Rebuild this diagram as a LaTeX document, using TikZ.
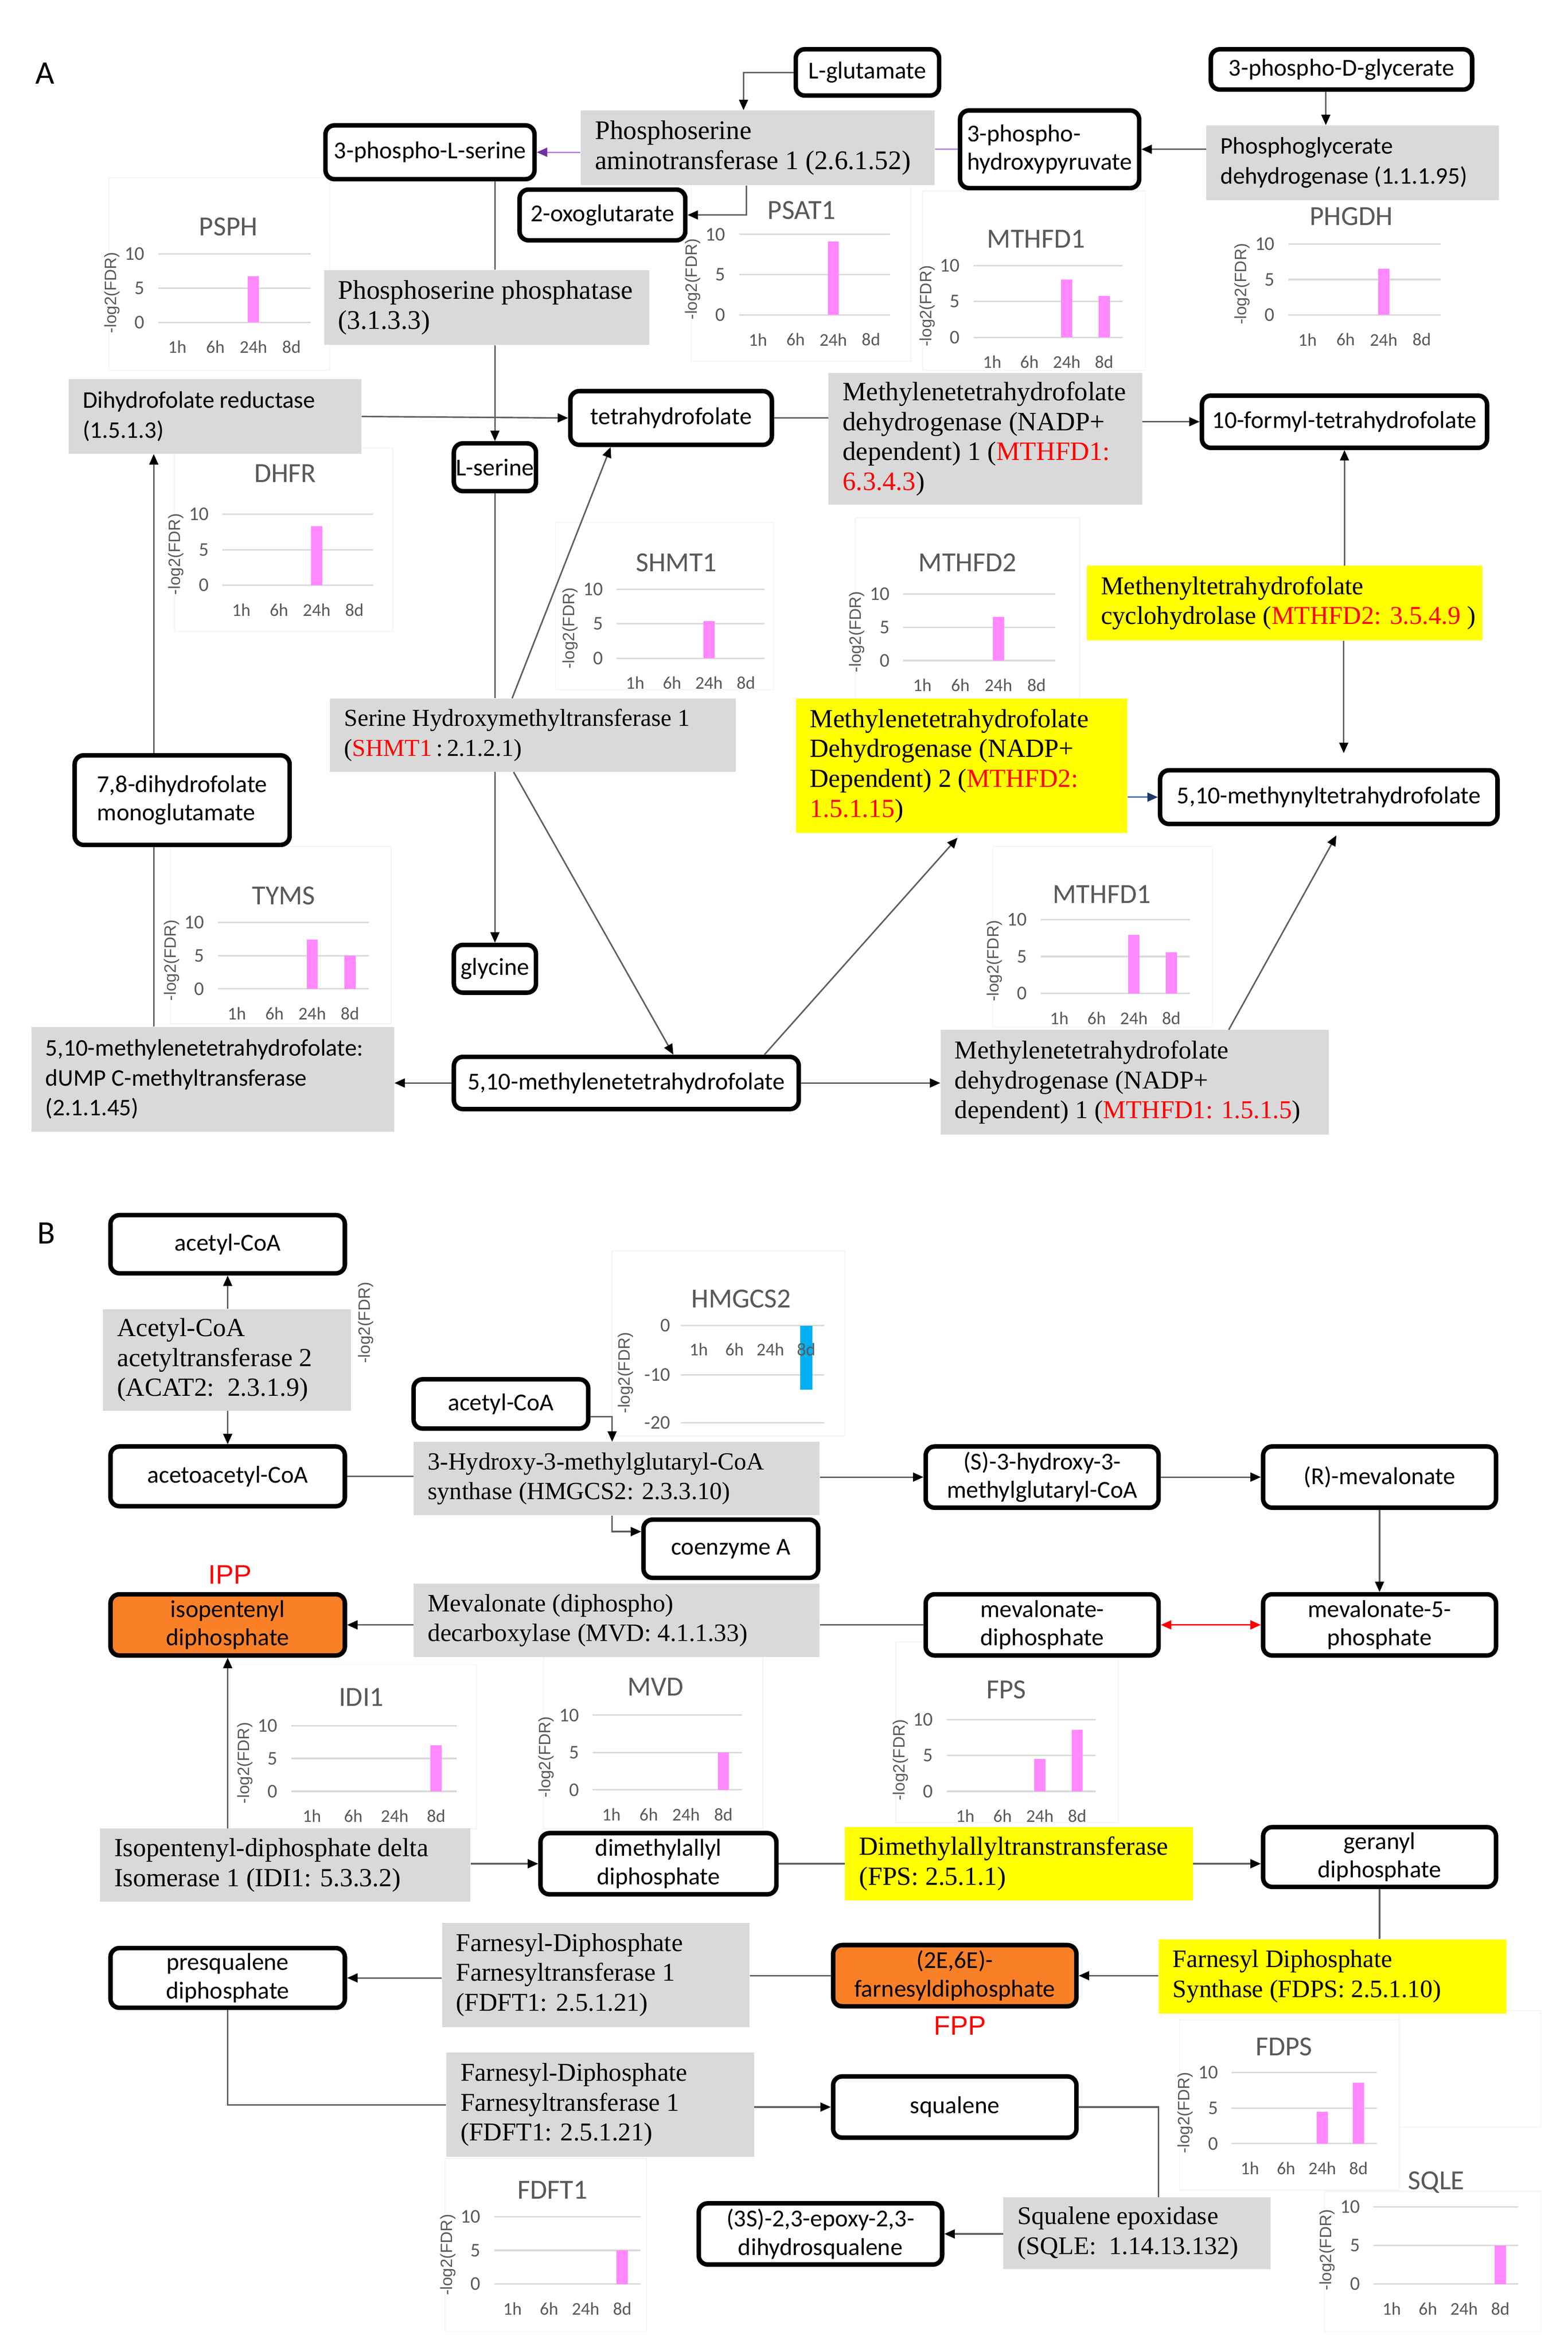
\documentclass[tikz,border=0pt]{standalone}
\usepackage{fontspec}
\setmainfont{Liberation Serif}
\setsansfont{Carlito}
\newfontfamily\arialf{Liberation Sans}
\usetikzlibrary{arrows.meta,calc}
\definecolor{gboxc}{RGB}{217,217,217}
\definecolor{yboxc}{RGB}{255,255,0}
\definecolor{oboxc}{RGB}{250,128,40}
\definecolor{pinkbar}{RGB}{255,136,255}
\definecolor{bluebar}{RGB}{0,176,240}
\definecolor{axgray}{RGB}{89,89,89}
\definecolor{gridc}{RGB}{217,217,217}
\definecolor{linec}{RGB}{95,95,95}
\definecolor{purpl}{RGB}{190,130,225}
\definecolor{purpd}{RGB}{112,48,160}
\definecolor{navyl}{RGB}{68,114,196}
\definecolor{navyd}{RGB}{31,56,100}
\definecolor{framec}{RGB}{245,245,245}
\newcommand\rd[1]{\textcolor{red}{#1}}
% metabolite box: [opts]{name}{x1}{y1}{x2}{y2}{text}
\newcommand\metab[7][]{\node[met,#1,minimum width={(#5-#3)*1pt},minimum height={(#6-#4)*1pt}] (#2) at ({(#3+#5)/2},{(#4+#6)/2}) {#7};}
% enzyme box: [opts]{name}{x1}{y1}{x2}{y2}{text}
\newcommand\enz[7][]{\node[ebox,#1,minimum width={(#5-#3)*1pt},minimum height={(#6-#4)*1pt}] (#2) at ({(#3+#5)/2},{(#4+#6)/2}) {};
 \node[etext,#1] (#2-t) at ([xshift=9.5pt]#2.west) {#7};}
% chart: {name}{gl}{gr}{y0}{y10}{title}{tx}{ty}{bars}
\newcommand\chart[9]{%
 \pgfmathsetmacro\cYf{(#4+#5)/2}%
 \pgfmathsetmacro\cStep{(#3-#2)/4}%
 \draw[gridl] (#2,#4) -- (#3,#4);
 \draw[gridl] (#2,\cYf) -- (#3,\cYf);
 \draw[gridl] (#2,#5) -- (#3,#5);
 \node[tick,anchor=east] (#1-t0) at (#2-9,#4) {0};
 \node[tick,anchor=east] (#1-t5) at (#2-9,\cYf) {5};
 \node[tick,anchor=east] (#1-t10) at (#2-9,#5) {10};
 \foreach \ci/\cv in {#9}{\fill[pinkbar] ({#2+(\ci-0.5)*\cStep-3.75},#4) rectangle ({#2+(\ci-0.5)*\cStep+3.75},{#4-\cv*(#4-#5)/10});}
 \foreach \ci/\cl in {1/1h,2/6h,3/24h,4/8d}{\node[xlab] (#1-x\ci) at ({#2+(\ci-0.5)*\cStep},#4+16.5) {\cl};}
 \node[ctitle] (#1-title) at (#7,#8) {#6};
 \node[ylab] (#1-y) at (#2-31,\cYf+3) {-log2(FDR)};
}
\begin{document}
\begin{tikzpicture}[x=1pt,y=-1pt,
 met/.style={draw=black,line width=3pt,rounded corners=6pt,fill=white,font=\sffamily\fontsize{16.3}{19}\selectfont,align=center,inner sep=0pt},
 ebox/.style={inner sep=0pt,fill=gboxc},
 etext/.style={inner sep=0pt,anchor=west,align=left,font=\fontsize{17.5}{20}\selectfont},
 esans/.style={font=\sffamily\fontsize{16}{20}\selectfont},
 fs/.style={font={\fontsize{#1}{20}\selectfont}},
 yel/.style={fill=yboxc},
 orb/.style={fill=oboxc},
 gridl/.style={draw=gridc,line width=1pt},
 tick/.style={font=\sffamily\fontsize{13}{13}\selectfont,text=axgray,inner sep=0pt},
 xlab/.style={font=\sffamily\fontsize{12}{12}\selectfont,text=axgray,inner sep=0pt},
 ctitle/.style={font=\sffamily\fontsize{18.5}{18.5}\selectfont,text=axgray,inner sep=0pt},
 ylab/.style={font=\arialf\fontsize{11}{11}\selectfont,text=axgray,inner sep=0pt,rotate=90},
 cframe/.style={draw=framec,line width=0.8pt},
 conn/.style={draw=linec,line width=1pt},
 arr/.style={conn,-{Triangle[length=7pt,width=6pt,color=black]}},
 parr/.style={draw=purpl,line width=1pt,-{Triangle[length=7pt,width=6pt,color=purpd]}},
 pline/.style={draw=purpl,line width=1pt},
 narr/.style={draw=navyl,line width=1pt,-{Triangle[length=7pt,width=6pt,color=navyd]}},
 darr/.style={draw=red,line width=1pt,{Triangle[length=7pt,width=6pt]}-{Triangle[length=7pt,width=6pt]}},
 plabel/.style={font=\sffamily\fontsize{22}{22}\selectfont,inner sep=0pt},
 redlab/.style={font=\arialf\fontsize{18}{18}\selectfont,text=red,inner sep=0pt}
]
\useasboundingbox (0,0) rectangle (1050,1573.6);
\fill[white] (0,0) rectangle (1050,1573.6);

% faint chart frames
\draw[cframe] (73,119) rectangle (221,248);
\draw[cframe] (463,120) rectangle (610,242);
\draw[cframe] (618,128) rectangle (767,248);
\draw[cframe] (117,300) rectangle (263,423);
\draw[cframe] (372,350) rectangle (518,462);
\draw[cframe] (573,347) rectangle (723,468);
\draw[cframe] (114,567) rectangle (262,686);
\draw[cframe] (665,567) rectangle (812,688);
\draw[cframe] (410,838) rectangle (566,962);
\draw[cframe] (154,1115) rectangle (319,1225);
\draw[cframe] (364,1110) rectangle (511,1225);
\draw[cframe] (600,1100) rectangle (749,1221);
\draw[cframe] (790,1353) rectangle (937,1467);
\draw[cframe] (937,1347) rectangle (1032,1425);
\draw[cframe] (887,1468) rectangle (1032,1562);
\draw[cframe] (298,1446) rectangle (433,1562);

% panel labels
\node[plabel] (labA) at (30,49) {A};
\node[plabel] (labB) at (31,826) {B};

% charts panel A
\chart{psph}{106}{208}{216}{170}{PSPH}{153}{152}{3/6.7}
\chart{psatc}{495}{596}{211}{157}{PSAT1}{537}{141}{3/9.1}
\chart{mtdA}{652}{752}{226}{178}{MTHFD1}{694}{160}{3/8.1,4/5.8}
\chart{phg}{863}{965}{211}{163.5}{PHGDH}{905}{145}{3/6.5}
\chart{dhfrc}{149}{250}{392}{344.5}{DHFR}{191}{317}{3/8.3}
\chart{shmc}{413}{512}{441}{394.7}{SHMT1}{453}{377}{3/5.4}
\chart{mtdB}{605}{707}{442.5}{398}{MTHFD2}{648}{377}{3/6.6}
\chart{tyms}{146}{247}{662.4}{618}{TYMS}{190}{600}{3/7.4,4/5}
\chart{mtdC}{697}{797}{665.5}{616}{MTHFD1}{738}{599}{3/7.9,4/5.6}
% charts panel B
\chart{idic}{195}{306}{1200}{1156}{IDI1}{242}{1137}{4/7}
\chart{mvdc}{397}{497}{1199}{1149}{MVD}{439}{1130}{4/5}
\chart{fpsc}{634}{734}{1200}{1152}{FPS}{674}{1132}{3/4.5,4/8.6}
\chart{fdpsc}{825}{922}{1436}{1388.4}{FDPS}{860}{1371}{3/4.5,4/8.6}
\chart{sqlec}{920}{1017}{1530}{1478.4}{SQLE}{962}{1462}{4/5}
\chart{fdftc}{331}{429}{1530}{1485}{FDFT1}{370}{1467}{4/5}
% HMGCS2 chart (negative values)
\draw[gridl] (456,888) -- (552,888);
\draw[gridl] (456,921) -- (552,921);
\draw[gridl] (456,953) -- (552,953);
\node[tick,anchor=east] (hm-t0) at (449,888) {0};
\node[tick,anchor=east] (hm-t1) at (449,921) {-10};
\node[tick,anchor=east] (hm-t2) at (449,953) {-20};
\fill[bluebar] (536,888) rectangle (544,931);
\foreach \ci/\cx/\cl in {1/468/1h,2/492/6h,3/516/24h,4/540/8d}{\node[xlab] (hm-x\ci) at (\cx,904) {\cl};}
\node[ctitle] (hm-title) at (496.5,870) {HMGCS2};
\node[ylab] (hm-y) at (419,919.6) {-log2(FDR)};
\node[ylab] (acat-y) at (245,886) {-log2(FDR)};

% metabolites panel A
\metab{glu}{533}{33}{629}{64}{L-glutamate}
\metab{pser}{218}{84}{358}{120}{3-phospho-L-serine}
\metab{oxo}{348}{127}{459}{161}{2-oxoglutarate}
\metab{thf}{382}{262}{517}{298}{tetrahydrofolate}
\metab{lser}{304}{297}{359}{329}{L-serine}
\metab{gly}{304}{633}{359}{665}{glycine}
\metab[align=left]{dhf}{50}{506}{194}{566}{7,8-dihydrofolate\\monoglutamate}
\metab{mthf}{304}{708}{535}{743}{5,10-methylenetetrahydrofolate}
\metab{myn}{777}{516}{1003}{552}{5,10-methynyltetrahydrofolate}
\metab{formyl}{805}{265}{996}{300}{10-formyl-tetrahydrofolate}
\metab[align=left]{php}{643}{74}{763}{126}{3-phospho-\\hydroxypyruvate}
\metab{pdg}{811}{33}{986}{60}{3-phospho-D-glycerate}

% enzymes panel A
\enz[fs=18]{psat}{389}{74}{626}{124}{Phosphoserine\\aminotransferase 1 (2.6.1.52)}
\enz[fs=18]{pspp}{217}{181}{435}{231}{Phosphoserine phosphatase\\(3.1.3.3)}
\enz[esans]{dhfr}{46}{254}{242}{304}{Dihydrofolate reductase\\(1.5.1.3)}
\enz[fs=17.8]{mtdt}{555}{250}{765}{338}{Methylenetetrahydrofolate\\dehydrogenase (NADP+\\dependent) 1 (\rd{MTHFD1:}\\\rd{6.3.4.3})}
\enz[esans]{pgdh}{808}{84}{1004}{134}{Phosphoglycerate\\dehydrogenase (1.1.1.95)}
\enz[fs=16.3]{shmt}{221}{468}{493}{517}{Serine Hydroxymethyltransferase 1\\(\rd{SHMT1}\,:\,2.1.2.1)}
\enz[yel,fs=17.2]{cyc}{728}{379}{993}{429}{Methenyltetrahydrofolate\\cyclohydrolase (\rd{MTHFD2: 3.5.4.9} )}
\enz[yel,fs=17.5]{mtd2}{533}{468}{755}{558}{Methylenetetrahydrofolate\\Dehydrogenase (NADP+\\Dependent) 2 (\rd{MTHFD2:}\\\rd{1.5.1.15})}
\enz[esans]{dump}{21}{688}{264}{758}{5,10-methylenetetrahydrofolate:\\dUMP C-methyltransferase\\(2.1.1.45)}
\enz[fs=17.2]{mtdb}{630}{690}{890}{760}{Methylenetetrahydrofolate\\dehydrogenase (NADP+\\dependent) 1 (\rd{MTHFD1: 1.5.1.5})}

% metabolites panel B
\metab{acoaA}{74}{814}{231}{853}{acetyl-CoA}
\metab{aacoa}{74}{969}{231}{1009}{acetoacetyl-CoA}
\metab{acoaB}{277}{924}{394}{957}{acetyl-CoA}
\metab{coa}{431}{1018}{548}{1057}{coenzyme A}
\metab{shmg}{620}{969}{776}{1010}{(S)-3-hydroxy-3-\\methylglutaryl-CoA}
\metab{rmev}{846}{969}{1002}{1010}{(R)-mevalonate}
\metab{mevpp}{620}{1068}{776}{1109}{mevalonate-\\diphosphate}
\metab{mevp}{846}{1068}{1002}{1109}{mevalonate-5-\\phosphate}
\metab[orb]{ipp}{74}{1068}{231}{1109}{isopentenyl\\diphosphate}
\metab{dma}{362}{1228}{520}{1269}{dimethylallyl\\diphosphate}
\metab{gpp}{846}{1224}{1002}{1264}{geranyl\\diphosphate}
\metab[orb]{fpp}{558}{1303}{721}{1344}{(2E,6E)-\\farnesyldiphosphate}
\metab{psq}{74}{1305}{231}{1345}{presqualene\\diphosphate}
\metab{sq}{558}{1391}{721}{1432}{squalene}
\metab{epo}{468}{1476}{631}{1517}{(3S)-2,3-epoxy-2,3-\\dihydrosqualene}
\node[redlab] (ippl) at (154,1055) {IPP};
\node[redlab] (fppl) at (643,1357) {FPP};

% enzymes panel B
\enz[fs=17.5]{acat}{69}{877}{235}{945}{Acetyl-CoA\\acetyltransferase 2\\(ACAT2:\ \ 2.3.1.9)}
\enz[fs=16.5]{hmg}{277}{966}{549}{1015}{3-Hydroxy-3-methylglutaryl-CoA\\synthase (HMGCS2: 2.3.3.10)}
\enz[fs=16.8]{mvd}{277}{1061}{549}{1110}{Mevalonate (diphospho)\\decarboxylase (MVD: 4.1.1.33)}
\enz[fs=17.5]{idi}{67}{1225}{315}{1274}{Isopentenyl-diphosphate delta\\Isomerase 1 (IDI1: 5.3.3.2)}
\enz[yel,fs=17.5]{fps}{566}{1224}{799}{1273}{Dimethylallyltranstransferase\\(FPS: 2.5.1.1)}
\enz[yel,fs=16.8]{fdps}{776}{1299}{1009}{1349}{Farnesyl Diphosphate\\Synthase (FDPS: 2.5.1.10)}
\enz[fs=17.2]{fdfa}{296}{1288}{502}{1358}{Farnesyl-Diphosphate\\Farnesyltransferase 1\\(FDFT1: 2.5.1.21)}
\enz[fs=17.2]{fdfb}{299}{1375}{505}{1445}{Farnesyl-Diphosphate\\Farnesyltransferase 1\\(FDFT1: 2.5.1.21)}
\enz[fs=17]{sqle}{672}{1472}{851}{1520}{Squalene epoxidase\\(SQLE:\ \ 1.14.13.132)}

% connectors panel A
\draw[arr] (glu.west) -| ([xshift=-9.5pt]psat.north);
\draw[parr] (psat.west |- pser.east) -- (pser.east);
\draw[pline] (php.west) -- (psat.east |- php.west);
\draw[arr] ([xshift=-7.5pt]psat.south) |- (oxo.east);
\draw[conn] (pser.south -| lser.north) -- (pspp.north -| lser.north);
\draw[arr] (pspp.south -| lser.north) -- (lser.north);
\draw[arr] (dhfr.east) -- (thf.west);
\coordinate (vx) at (103,0);
\draw[conn] (dump.north -| vx) -- (dhf.south -| vx);
\draw[arr] (dhf.north -| vx) -- (dhfr.south -| vx);
\draw[conn] (lser.south) -- (shmt.north -| lser.south);
\draw[arr] (shmt.south -| lser.south) -- (gly.north);
\draw[arr] ([xshift=-14pt]shmt.north) -- ([xshift=-40.5pt]thf.south);
\draw[arr] ([xshift=-13pt]shmt.south) -- ([xshift=31.5pt]mthf.north);
\draw[arr] (mthf.west) -- (dump.east |- mthf.west);
\draw[arr] (mthf.east) -- (mtdb.west |- mthf.east);
\draw[arr,shorten >=4pt] ([xshift=92.5pt]mthf.north) -- (mtd2.south);
\draw[arr,shorten >=7pt] ([xshift=63pt]mtdb.north) -- ([xshift=8.5pt]myn.south);
\draw[narr] (mtd2.east |- myn.west) -- (myn.west);
\draw[arr,shorten >=10pt] ([xshift=39.5pt]cyc.south) -- ([xshift=10pt]myn.north);
\draw[arr] (formyl.south |- cyc.north) -- (formyl.south);
\draw[conn] (thf.east) -- (mtdt.west |- thf.east);
\draw[arr] (mtdt.east |- formyl.west) -- (formyl.west);
\draw[arr] (pgdh.west |- php.east) -- (php.east);
\draw[arr] ([xshift=-10.5pt]pdg.south) -- ([xshift=-10.5pt]pdg.south |- pgdh.north);

% connectors panel B
\draw[arr] (acoaA.south |- acat.north) -- (acoaA.south);
\draw[arr] (acoaA.south |- acat.south) -- (aacoa.north);
\draw[conn] (aacoa.east) -- (hmg.west |- aacoa.east);
\draw[arr] ([yshift=-8.5pt]acoaB.east) -| ([xshift=-3pt]hmg.north);
\draw[arr] ([xshift=-3pt]hmg.south) |- ([yshift=11.5pt]coa.west);
\draw[arr] (hmg.east |- shmg.west) -- (shmg.west);
\draw[arr] (shmg.east) -- (rmev.west);
\draw[arr] (rmev.south) -- (mevp.north);
\draw[darr] (mevpp.east) -- (mevp.west);
\draw[conn] (mevpp.west) -- (mvd.east |- mevpp.west);
\draw[arr] (mvd.west |- ipp.east) -- (ipp.east);
\draw[arr] (ipp.south |- idi.north) -- (ipp.south);
\draw[arr] (idi.east |- dma.west) -- (dma.west);
\draw[conn] (dma.east) -- (fps.west |- dma.east);
\draw[arr] (fps.east) -- (gpp.west |- fps.east);
\draw[conn] (gpp.south) -- (gpp.south |- fdps.north);
\draw[arr] (fdps.west |- fpp.east) -- (fpp.east);
\draw[conn] (fpp.west) -- (fdfa.east |- fpp.west);
\draw[arr] (fdfa.west |- psq.east) -- (psq.east);
\draw[conn] (psq.south) |- (fdfb.west);
\draw[arr] (fdfb.east |- sq.west) -- (sq.west);
\draw[conn] (sq.east) -| ([xshift=14.5pt]sqle.north);
\draw[arr] (sqle.west |- epo.east) -- (epo.east);
\end{tikzpicture}
\end{document}
